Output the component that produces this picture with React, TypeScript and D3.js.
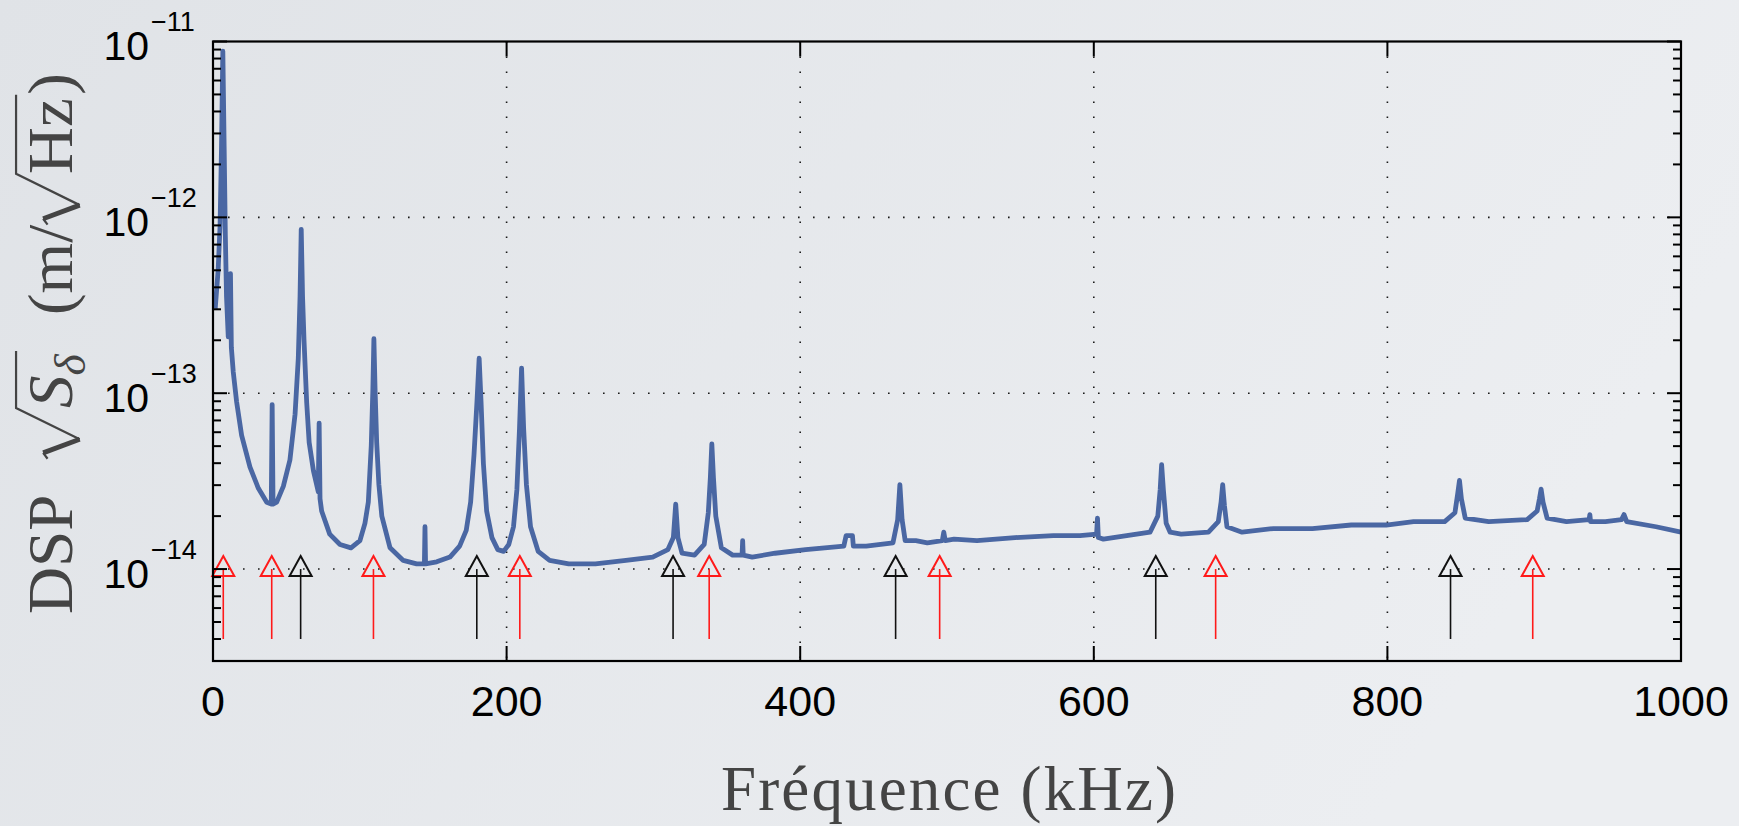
import React, { useEffect, useRef } from "react";
import * as d3 from "d3";

// spectrum (kHz, m/sqrt(Hz))
const freqKHz = [
  1.5, 3.5, 4.8, 5.8, 6.7, 7.6, 8.4, 9.2, 10.4, 11.3, 11.9, 12.5, 13.8, 16.1, 19.5, 25.2, 30.9, 36.6, 39.7, 40.3,
  40.9, 43.4, 47.9, 52.4, 55.9, 58.1, 59.3, 60.1, 61.0, 62.0, 63.8, 65.5, 68.4, 71.7, 72.3, 72.9, 74.0, 79.5, 86.5, 94.0,
  100.1, 103.5, 105.8, 107.8, 108.9, 109.6, 110.4, 111.5, 113.0, 115.0, 120.6, 129.6, 138.7, 144.0, 144.4, 144.8, 152.4, 161.4, 168.0, 172.5,
  175.5, 177.8, 179.8, 181.3, 182.6, 184.2, 186.4, 190.0, 194.0, 198.0, 201.5, 204.7, 207.0, 208.8, 210.2, 211.6, 213.5, 216.3, 221.5, 229.3,
  242.3, 260.5, 281.3, 299.5, 309.9, 313.6, 315.2, 316.7, 319.5, 328.0, 334.6, 337.4, 338.8, 339.8, 340.9, 342.5, 346.3, 354.0, 360.4, 360.8,
  361.2, 367.3, 382.9, 403.7, 429.7, 431.3, 435.6, 436.2, 445.0, 463.2, 466.4, 467.9, 469.4, 471.5, 478.8, 486.6, 496.8, 497.8, 498.8, 504.8,
  520.4, 546.4, 572.4, 590.6, 601.9, 602.5, 603.1, 606.5, 622.4, 638.3, 643.6, 645.2, 646.2, 647.4, 649.3, 652.0, 659.5, 678.1, 684.8, 686.7,
  687.8, 689.0, 690.7, 701.0, 722.4, 748.9, 775.4, 799.2, 817.8, 839.0, 846.0, 847.9, 849.1, 850.4, 853.0, 869.0, 895.2, 902.0, 903.6, 904.7,
  906.0, 908.8, 922.0, 937.4, 937.9, 938.4, 948.5, 959.5, 961.2, 963.0, 983.0, 1000.0,
];
const dsp = [
  3.02e-13, 5.01e-13, 8.91e-13, 2.51e-12, 8.81e-12, 2.51e-12, 7.94e-13, 3.55e-13, 2.09e-13, 2.4e-13, 4.79e-13, 1.82e-13, 1.32e-13, 8.91e-14, 5.75e-14, 3.8e-14, 2.88e-14, 2.4e-14, 2.34e-14, 8.61e-14,
  2.34e-14, 2.4e-14, 2.95e-14, 4.17e-14, 7.59e-14, 1.58e-13, 3.55e-13, 8.55e-13, 3.55e-13, 2.0e-13, 8.91e-14, 5.25e-14, 3.63e-14, 2.75e-14, 6.76e-14, 2.51e-14, 2.14e-14, 1.58e-14, 1.38e-14, 1.32e-14,
  1.45e-14, 1.82e-14, 2.4e-14, 5.01e-14, 1.05e-13, 2.04e-13, 1.05e-13, 5.25e-14, 3.02e-14, 2.0e-14, 1.32e-14, 1.12e-14, 1.07e-14, 1.07e-14, 1.74e-14, 1.07e-14, 1.1e-14, 1.17e-14, 1.35e-14, 1.66e-14,
  2.4e-14, 4.47e-14, 8.91e-14, 1.58e-13, 8.91e-14, 3.98e-14, 2.14e-14, 1.51e-14, 1.29e-14, 1.26e-14, 1.38e-14, 1.74e-14, 2.82e-14, 6.31e-14, 1.39e-13, 6.31e-14, 3.02e-14, 1.74e-14, 1.26e-14, 1.12e-14,
  1.07e-14, 1.07e-14, 1.12e-14, 1.17e-14, 1.29e-14, 1.51e-14, 2.34e-14, 1.51e-14, 1.23e-14, 1.2e-14, 1.38e-14, 2.09e-14, 3.31e-14, 5.15e-14, 3.31e-14, 2.0e-14, 1.32e-14, 1.2e-14, 1.2e-14, 1.45e-14,
  1.2e-14, 1.17e-14, 1.23e-14, 1.29e-14, 1.35e-14, 1.55e-14, 1.55e-14, 1.35e-14, 1.35e-14, 1.41e-14, 1.91e-14, 3.02e-14, 1.91e-14, 1.45e-14, 1.45e-14, 1.41e-14, 1.45e-14, 1.62e-14, 1.45e-14, 1.48e-14,
  1.45e-14, 1.51e-14, 1.55e-14, 1.55e-14, 1.58e-14, 1.95e-14, 1.51e-14, 1.48e-14, 1.55e-14, 1.62e-14, 2.0e-14, 2.82e-14, 3.92e-14, 2.82e-14, 1.82e-14, 1.62e-14, 1.58e-14, 1.62e-14, 1.86e-14, 2.4e-14,
  3.02e-14, 2.29e-14, 1.74e-14, 1.62e-14, 1.7e-14, 1.7e-14, 1.78e-14, 1.78e-14, 1.86e-14, 1.86e-14, 2.09e-14, 2.69e-14, 3.19e-14, 2.51e-14, 1.95e-14, 1.86e-14, 1.91e-14, 2.14e-14, 2.51e-14, 2.85e-14,
  2.4e-14, 1.95e-14, 1.86e-14, 1.91e-14, 2.04e-14, 1.86e-14, 1.86e-14, 1.91e-14, 2.04e-14, 1.86e-14, 1.74e-14, 1.62e-14,
];

// markers under the peaks (kHz)
const redMarks = [7, 40, 109.3, 209, 338, 495, 683, 899];
const blackMarks = [59.7, 179.7, 313.4, 465, 642.2, 843];
const markLevel = 1e-14;
const markFoot = 4e-15;

const xTicks = [0, 200, 400, 600, 800, 1000];
const yTickExps = [-11, -12, -13, -14];
const xLabel = "Fréquence (kHz)";

const App = () => {
  const svgRef = useRef<SVGSVGElement>(null);

  useEffect(() => {
    const width = 1739, height = 826;
    const left = 213, right = 1681, top = 41.5, bottom = 661;
    const lineColor = "#4a67a3", labelColor = "#444444";
    const sans = "'Liberation Sans', Arial, Helvetica, sans-serif";
    const serif = "'Liberation Serif', 'Times New Roman', serif";

    const svg = d3.select(svgRef.current).attr("width", width).attr("height", height).html("");

    // background
    const grad = svg.append("defs").append("linearGradient").attr("id", "bg").attr("x1", 0).attr("y1", 0).attr("x2", 1).attr("y2", 0.3);
    grad.append("stop").attr("offset", "0%").attr("stop-color", "#e0e3e7");
    grad.append("stop").attr("offset", "100%").attr("stop-color", "#eceef1");
    svg.append("rect").attr("width", width).attr("height", height).attr("fill", "url(#bg)");

    const x = d3.scaleLinear().domain([0, 1000]).range([left, right]);
    const y = d3.scaleLog().domain([3e-15, 1e-11]).range([bottom, top]);

    // dotted grid
    const grid = svg.append("g").attr("stroke", "#1a1a1a").attr("stroke-width", 1.6).attr("stroke-dasharray", "1.6,13.4");
    xTicks.slice(1, -1).forEach((t) => {
      grid.append("line").attr("x1", x(t)).attr("x2", x(t)).attr("y1", top).attr("y2", bottom);
    });
    yTickExps.slice(1).forEach((e) => {
      grid.append("line").attr("x1", left).attr("x2", right).attr("y1", y(10 ** e)).attr("y2", y(10 ** e));
    });

    // spectrum
    const pts = freqKHz.map((f, i) => [f, dsp[i]] as [number, number]);
    const line = d3.line<[number, number]>().x((d) => x(d[0])).y((d) => y(d[1]));
    svg.append("path")
      .attr("d", line(pts))
      .attr("fill", "none")
      .attr("stroke", lineColor)
      .attr("stroke-width", 4.8)
      .attr("stroke-linejoin", "round");

    // arrows
    const drawMarks = (list: number[], color: string) => {
      const g = svg.append("g").attr("stroke", color).attr("fill", "none");
      list.forEach((f) => {
        const cx = x(f), cy = y(markLevel);
        g.append("line").attr("x1", cx).attr("x2", cx).attr("y1", cy).attr("y2", y(markFoot)).attr("stroke-width", 1.6);
        g.append("path")
          .attr("d", `M${cx},${cy - 13}L${cx + 11},${cy + 7}L${cx - 11},${cy + 7}Z`)
          .attr("stroke-width", 2);
      });
    };
    drawMarks(redMarks, "#ff1a1a");
    drawMarks(blackMarks, "#111111");

    // box and ticks
    const axes = svg.append("g").attr("stroke", "#000");
    axes.append("rect").attr("x", left).attr("y", top).attr("width", right - left).attr("height", bottom - top)
      .attr("fill", "none").attr("stroke-width", 2.2);
    xTicks.forEach((t) => {
      axes.append("line").attr("x1", x(t)).attr("x2", x(t)).attr("y1", bottom).attr("y2", bottom - 15).attr("stroke-width", 2);
      axes.append("line").attr("x1", x(t)).attr("x2", x(t)).attr("y1", top).attr("y2", top + 15).attr("stroke-width", 2);
    });
    y.ticks().forEach((v) => {
      const major = Math.abs(Math.log10(v) - Math.round(Math.log10(v))) < 1e-6;
      const len = major ? 14 : 8;
      const yy = y(v);
      axes.append("line").attr("x1", left).attr("x2", left + len).attr("y1", yy).attr("y2", yy).attr("stroke-width", 2);
      axes.append("line").attr("x1", right).attr("x2", right - len).attr("y1", yy).attr("y2", yy).attr("stroke-width", 2);
    });

    // tick labels
    const labels = svg.append("g").attr("fill", "#000").style("font-family", sans);
    xTicks.forEach((t) => {
      labels.append("text").attr("x", x(t)).attr("y", 716).attr("text-anchor", "middle")
        .style("font-size", "43px").text(t);
    });
    yTickExps.forEach((e) => {
      const yy = y(10 ** e);
      labels.append("text").attr("x", 149).attr("y", yy + 18.5).attr("text-anchor", "end")
        .style("font-size", "41px").text("10");
      labels.append("text").attr("x", 151).attr("y", yy - 10.5).attr("text-anchor", "start")
        .style("font-size", "27px").text("\u2212" + Math.abs(e));
    });

    // x label
    svg.append("text")
      .attr("x", (left + right) / 2 + 1.5).attr("y", 810)
      .attr("text-anchor", "middle")
      .attr("textLength", 455).attr("lengthAdjust", "spacing")
      .attr("fill", labelColor)
      .style("font-family", serif).style("font-size", "63px")
      .text(xLabel);

    // y label: DSP sqrt(S_delta) (m/sqrt(Hz)), built piece by piece
    const FS = 63;
    const yl = svg.append("g").attr("fill", labelColor).style("font-family", serif).style("font-size", FS + "px");
    let cx = 0;
    const word = (t: string, opts: { italic?: boolean; size?: number; dy?: number } = {}) => {
      const el = yl.append("text").attr("x", cx).attr("y", opts.dy || 0).text(t);
      if (opts.italic) el.style("font-style", "italic");
      if (opts.size) el.style("font-size", opts.size + "px");
      cx += (el.node() as SVGTextElement).getComputedTextLength();
    };
    const radical = (inner: () => void) => {
      const x0 = cx;
      const rw = 0.78 * FS;
      const topY = -0.88 * FS;
      yl.append("path")
        .attr("d", `M${x0},${-0.38 * FS}L${x0 + 0.09 * FS},${-0.45 * FS}`)
        .attr("stroke", labelColor).attr("stroke-width", 0.035 * FS).attr("fill", "none");
      yl.append("path")
        .attr("d", `M${x0 + 0.09 * FS},${-0.45 * FS}L${x0 + 0.3 * FS},${0.13 * FS}`)
        .attr("stroke", labelColor).attr("stroke-width", 0.075 * FS).attr("fill", "none");
      cx += rw;
      inner();
      const end = cx + 0.05 * FS;
      yl.append("path")
        .attr("d", `M${x0 + 0.3 * FS},${0.13 * FS}L${x0 + rw},${topY}H${end}`)
        .attr("stroke", labelColor).attr("stroke-width", 0.035 * FS).attr("fill", "none")
        .attr("stroke-linejoin", "miter");
      cx = end;
    };
    word("DSP");
    cx += 0.55 * FS;
    radical(() => {
      word("S", { italic: true });
      word("\u03b4", { italic: true, size: FS * 0.7, dy: 0.22 * FS });
    });
    cx += 0.55 * FS;
    word("(m/");
    radical(() => word("Hz"));
    word(")");
    const target = 541;
    yl.attr("transform", `translate(71.5,614) rotate(-90) scale(${target / cx},1)`);
  }, []);

  return <svg ref={svgRef} style={{ position: "fixed", left: 0, top: 0, display: "block" }}></svg>;
};

export default App;
